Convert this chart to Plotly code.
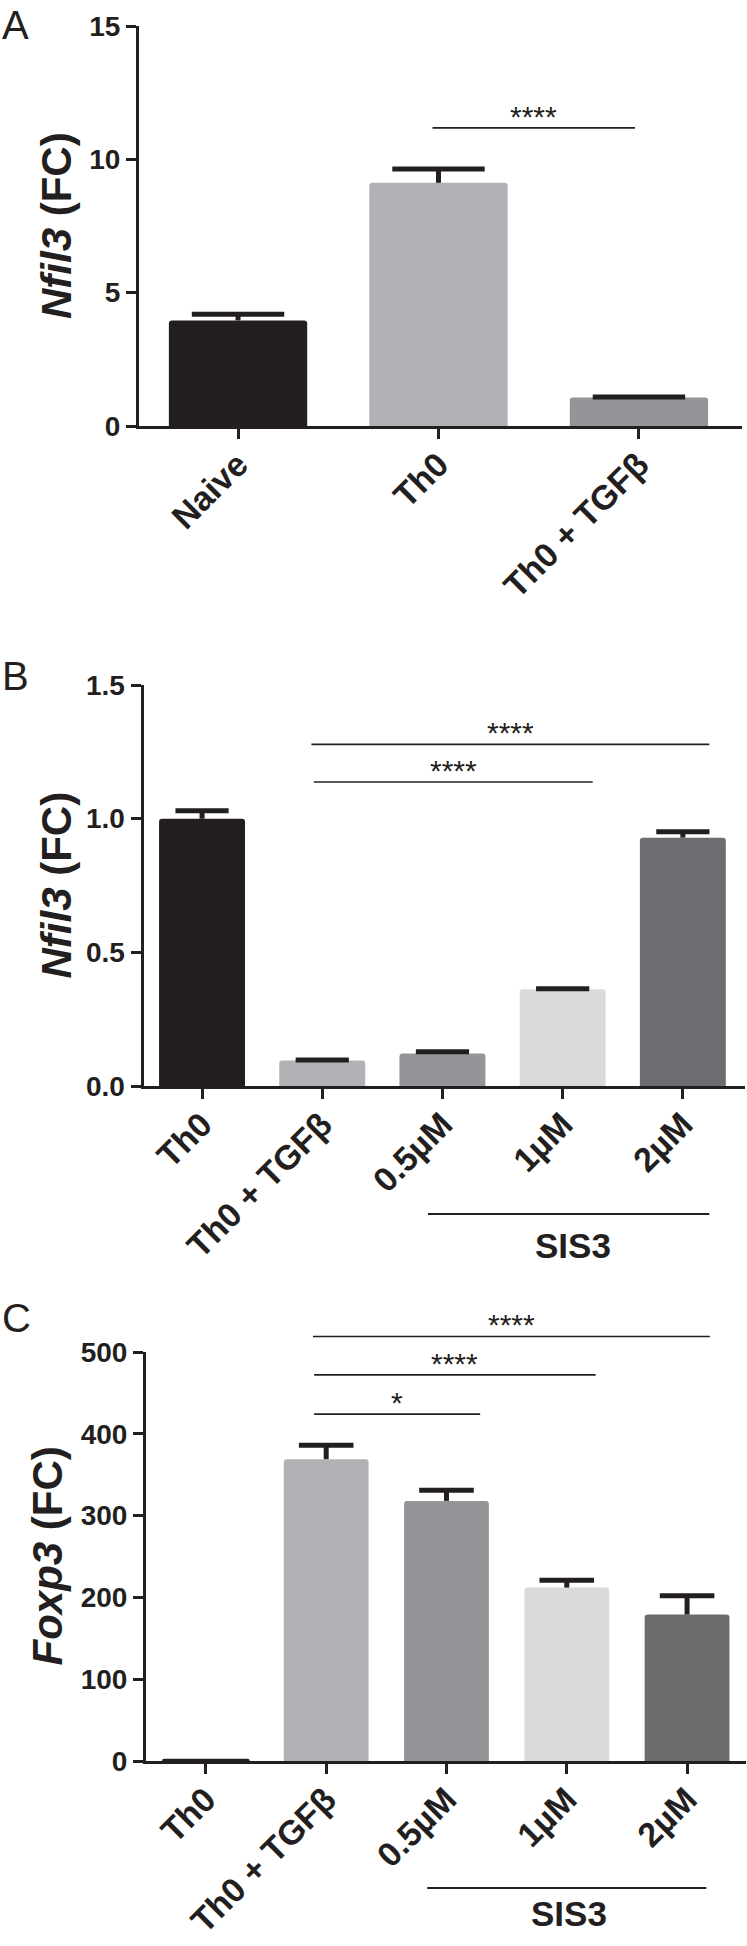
import plotly.graph_objects as go

FONT = "Liberation Sans, Arial, Helvetica, sans-serif"
INK = "#231f20"
W, H = 747, 1946

# ---------------- data ----------------
# Panel A
a_cats = ["Naive", "Th0", "Th0 + TGFβ"]
a_mean = [3.96, 9.12, 1.07]
a_err = [0.23, 0.52, 0.02]
a_colors = ["#231f20", "#b0b1b4", "#939598"]

# Panel B
b_cats = ["Th0", "Th0 + TGFβ", "0.5µM", "1µM", "2µM"]
b_mean = [1.0, 0.095, 0.122, 0.362, 0.929]
b_err = [0.03, 0.002, 0.006, 0.002, 0.022]
b_colors = ["#231f20", "#b1b2b5", "#939598", "#d9dadb", "#6d6e71"]

# Panel C
c_cats = ["Th0", "Th0 + TGFβ", "0.5µM", "1µM", "2µM"]
c_mean = [1, 369, 318, 212, 179]
c_err = [0, 17, 13, 9, 23]
c_colors = ["#231f20", "#b0b1b4", "#939598", "#d9dadb", "#6b6c6e"]

# significance comparisons: (from, to, bracket level, label)
a_sig = [(0.97, 1.98, 11.18, "****")]
b_sig = [(0.93, 3.25, 1.137, "****"), (0.91, 4.22, 1.278, "****")]
c_sig = [(0.90, 2.28, 424, "*"), (0.90, 3.24, 472, "****"), (0.89, 4.19, 519, "****")]

# ---------------- layout geometry (pixels) ----------------
panels = [
    dict(letter="A", cats=a_cats, mean=a_mean, err=a_err, colors=a_colors, sig=a_sig,
         x0=139, x1=742, ytop=26, ybot=426, xr=[-0.494, 2.514], yr=[0, 15], dtick=5,
         fmt="d", title="<i>Nfil3</i> (FC)", title_x=56, letter_y=25, bw=0.69, cap=66,
         sis3=None),
    dict(letter="B", cats=b_cats, mean=b_mean, err=b_err, colors=b_colors, sig=b_sig,
         x0=143.5, x1=745, ytop=685, ybot=1086, xr=[-0.487, 4.517], yr=[0, 1.5], dtick=0.5,
         fmt=".1f", title="<i>Nfil3</i> (FC)", title_x=56, letter_y=676, bw=0.715, cap=38,
         sis3=(1.88, 4.22, 1214, 3.09, 1245)),
    dict(letter="C", cats=c_cats, mean=c_mean, err=c_err, colors=c_colors, sig=c_sig,
         x0=146, x1=746, ytop=1352, ybot=1761, xr=[-0.498, 4.49], yr=[0, 500], dtick=100,
         fmt="d", title="<i>Foxp3</i> (FC)", title_x=47, letter_y=1318, bw=0.705, cap=39,
         sis3=(1.84, 4.16, 1888, 3.02, 1913)),
]


def py2paper(py):
    return 1 - py / H


fig = go.Figure()
annotations = []
shapes = []

for i, p in enumerate(panels):
    n = i + 1
    xa = "x" if n == 1 else f"x{n}"
    ya = "y" if n == 1 else f"y{n}"
    xkey = "xaxis" if n == 1 else f"xaxis{n}"
    ykey = "yaxis" if n == 1 else f"yaxis{n}"
    ydom_ref = f"{ya} domain"
    y0, y1 = p["yr"]

    def to_dom(v, y0=y0, y1=y1):
        return (v - y0) / (y1 - y0)

    def px_to_dom(py, p=p):
        return (p["ybot"] - py) / (p["ybot"] - p["ytop"])

    outline = [3 if (m < (y1 - y0) * 0.01) else 0 for m in p["mean"]]
    fig.add_trace(go.Bar(
        x=p["cats"], y=p["mean"], width=p["bw"],
        marker=dict(color=p["colors"], line=dict(color=INK, width=outline), cornerradius=3),
        error_y=dict(type="data", symmetric=False, array=p["err"],
                     arrayminus=[0] * len(p["err"]), width=0, thickness=5, color=INK),
        xaxis=xa, yaxis=ya, showlegend=False, hoverinfo="skip",
    ))
    caps = [m + e if e > 0 else None for m, e in zip(p["mean"], p["err"])]
    fig.add_trace(go.Scatter(
        x=p["cats"], y=caps, mode="markers",
        marker=dict(symbol="line-ew", size=p["cap"], line=dict(width=5, color=INK)),
        xaxis=xa, yaxis=ya, showlegend=False, hoverinfo="skip", cliponaxis=False,
    ))

    fig.update_layout(**{
        xkey: dict(domain=[p["x0"] / W, p["x1"] / W], anchor=ya, range=p["xr"],
                   type="category", showline=True, linewidth=3, linecolor=INK,
                   ticks="outside", ticklen=10, tickwidth=3, tickcolor=INK,
                   tickangle=-45, showgrid=False, zeroline=False, automargin=False,
                   ticklabelstandoff=-8,
                   tickfont=dict(family=FONT, size=34, color=INK, weight="bold")),
        ykey: dict(domain=[py2paper(p["ybot"]), py2paper(p["ytop"])], anchor=xa,
                   range=p["yr"], dtick=p["dtick"], tick0=0, tickformat=p["fmt"],
                   showline=True, linewidth=3, linecolor=INK, automargin=False,
                   ticks="outside", ticklen=10, tickwidth=3, tickcolor=INK,
                   showgrid=False, zeroline=False,
                   tickfont=dict(family=FONT, size=28, color=INK, weight="bold")),
    })

    # panel letter
    annotations.append(dict(text=p["letter"], xref="paper", yref="paper", x=0, y=py2paper(p["letter_y"]),
                            xanchor="left", yanchor="middle", showarrow=False,
                            font=dict(family=FONT, size=40, color=INK)))
    # y title
    annotations.append(dict(text=p["title"], xref="paper", yref="paper",
                            x=p["title_x"] / W, y=py2paper((p["ytop"] + p["ybot"]) / 2),
                            xanchor="center", yanchor="middle", textangle=-90, showarrow=False,
                            font=dict(family=FONT, size=42, color=INK, weight="bold")))

    # significance brackets
    for (s0, s1, lvl, lab) in p["sig"]:
        d = to_dom(lvl)
        shapes.append(dict(type="line", xref=xa, yref=ydom_ref, x0=s0, x1=s1, y0=d, y1=d,
                           line=dict(color=INK, width=1.6)))
        annotations.append(dict(text=lab, xref=xa, yref=ydom_ref, x=(s0 + s1) / 2, y=d,
                                xanchor="center", yanchor="bottom", yshift=-7, showarrow=False,
                                font=dict(family=FONT, size=30, color=INK)))

    # SIS3 group label
    if p["sis3"]:
        s0, s1, ly, tx, ty = p["sis3"]
        shapes.append(dict(type="line", xref=xa, yref=ydom_ref, x0=s0, x1=s1,
                           y0=px_to_dom(ly), y1=px_to_dom(ly), line=dict(color=INK, width=2)))
        annotations.append(dict(text="SIS3", xref=xa, yref=ydom_ref, x=tx, y=px_to_dom(ty),
                                xanchor="center", yanchor="middle", showarrow=False,
                                font=dict(family=FONT, size=35, color=INK, weight="bold")))

fig.update_layout(
    width=W, height=H, margin=dict(l=0, r=0, t=0, b=0, pad=0),
    paper_bgcolor="white", plot_bgcolor="white", showlegend=False,
    barmode="overlay", annotations=annotations, shapes=shapes,
    font=dict(family=FONT, color=INK),
)

fig.write_html("out.html", config={"displayModeBar": False},
               post_script="document.body.style.margin='0px';")
